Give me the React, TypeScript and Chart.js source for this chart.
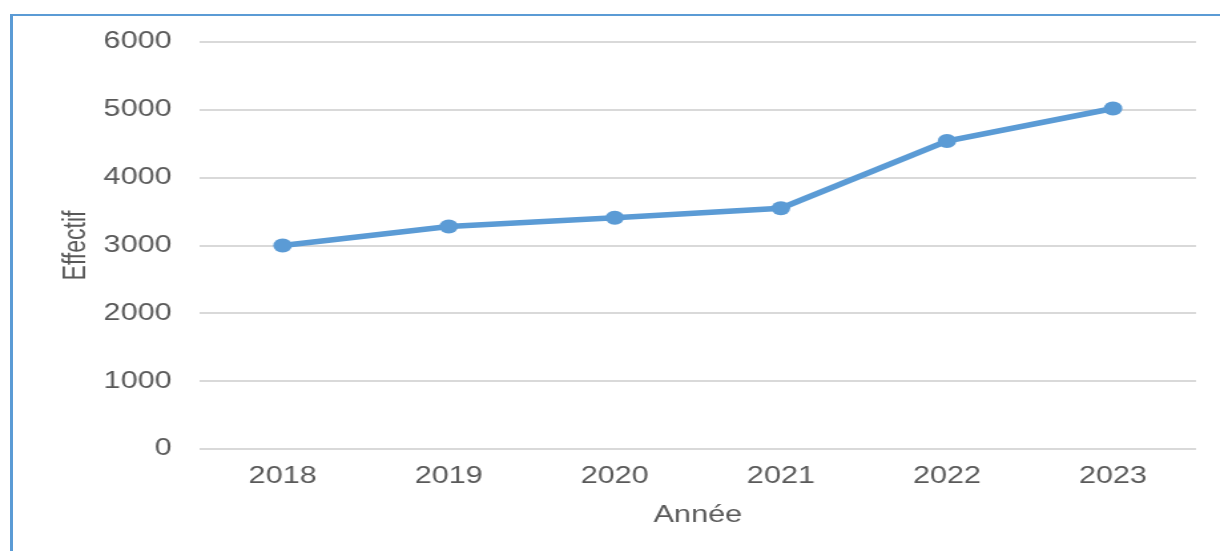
import React, { useEffect, useRef } from "react";
import { Chart, registerables } from "chart.js";

Chart.register(...registerables);

const years: string[] = ["2018", "2019", "2020", "2021", "2022", "2023"];
const effectif: number[] = [3000, 3280, 3410, 3550, 4540, 5020];
const yTicks: number[] = [0, 1000, 2000, 3000, 4000, 5000, 6000];

const INTERNAL_W = 917;
const H = 551;
const TEXT = "#595959";
const BLUE = "#5b9bd5";
const FONT = "'Liberation Sans', Arial, sans-serif";

export default function App() {
  const ref = useRef<HTMLCanvasElement | null>(null);

  useEffect(() => {
    const canvas = ref.current;
    if (!canvas) return;
    const chart = new Chart(canvas, {
      type: "line",
      data: {
        labels: years,
        datasets: [
          {
            label: "Effectif",
            data: effectif,
            borderColor: BLUE,
            backgroundColor: BLUE,
            borderWidth: 5.5,
            pointRadius: 7,
            pointBorderWidth: 0,
            pointBackgroundColor: BLUE,
            tension: 0,
            fill: false,
          },
        ],
      },
      options: {
        animation: false,
        responsive: false,
        devicePixelRatio: 1,
        layout: { padding: { left: 44, right: 18, top: 42, bottom: 22 } },
        plugins: {
          legend: { display: false },
          tooltip: { enabled: false },
        },
        scales: {
          x: {
            offset: true,
            grid: { display: false, drawTicks: false },
            border: { display: false },
            ticks: {
              color: TEXT,
              font: { family: FONT, size: 23 },
              padding: 14,
              maxRotation: 0,
            },
            title: {
              display: true,
              text: "Année",
              color: TEXT,
              font: { family: FONT, size: 23 },
              padding: 0,
            },
            afterFit: (scale: any) => {
              scale.height = 80;
            },
          },
          y: {
            min: yTicks[0],
            max: yTicks[yTicks.length - 1],
            afterBuildTicks: (scale: any) => {
              scale.ticks = yTicks.map((v) => ({ value: v }));
            },
            grid: { color: "#d9d9d9", lineWidth: 2, drawTicks: false },
            border: { display: false },
            ticks: {
              color: TEXT,
              font: { family: FONT, size: 23 },
              padding: 21,
              callback: (value: any) => String(value),
            },
            title: {
              display: true,
              text: "Effectif",
              color: TEXT,
              font: { family: FONT, size: 23 },
              padding: 0,
            },
            afterFit: (scale: any) => {
              scale.width = 106;
            },
          },
        },
      },
    });
    return () => chart.destroy();
  }, []);

  return (
    <div
      style={{
        position: "fixed",
        left: 0,
        top: 0,
        width: 1220,
        height: H,
        background: "#ffffff",
        overflow: "hidden",
      }}
    >
      <canvas
        ref={ref}
        width={INTERNAL_W}
        height={H}
        style={{ width: "1220px", height: H + "px", display: "block" }}
      />
      <div
        style={{
          position: "absolute",
          left: 10,
          top: 14,
          width: 1210,
          height: H - 14,
          borderLeft: `3px solid ${BLUE}`,
          borderTop: `2px solid ${BLUE}`,
          boxSizing: "border-box",
          pointerEvents: "none",
        }}
      />
    </div>
  );
}
